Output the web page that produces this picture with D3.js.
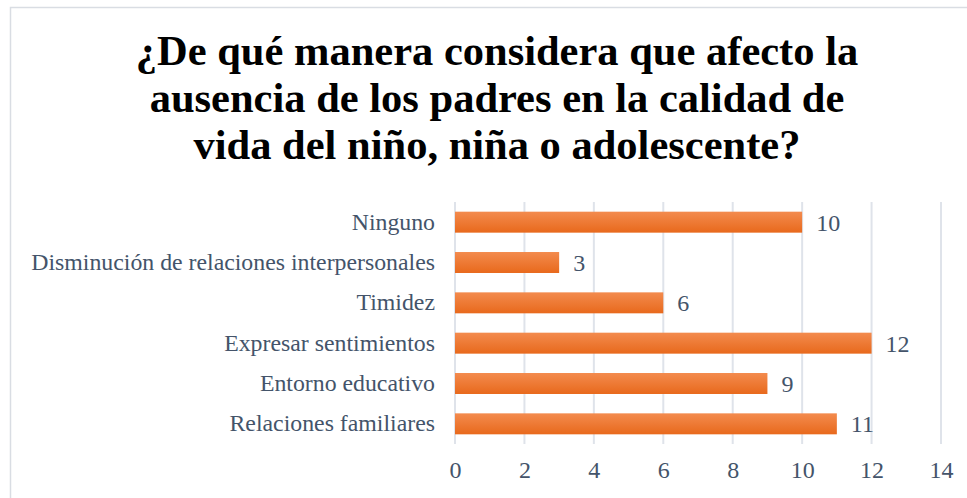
<!DOCTYPE html>
<html>
<head>
<meta charset="utf-8">
<script src="https://cdn.jsdelivr.net/npm/d3@7"></script>
<style>
  body { margin: 0; background: #fff; }
  svg { display: block; }
</style>
</head>
<body>
<div id="chart"></div>
<script>
// data
var categories = ["Ninguno", "Disminución de relaciones interpersonales", "Timidez",
  "Expresar sentimientos", "Entorno educativo", "Relaciones familiares"];
var values = [10, 3, 6, 12, 9, 11];
var xTicks = [0, 2, 4, 6, 8, 10, 12, 14];
var titleLines = ["¿De qué manera considera que afecto la",
  "ausencia de los padres en la calidad de",
  "vida del niño, niña o adolescente?"];

var W = 967, H = 498;
var margin = {top: 202, right: 26, bottom: 54, left: 455};
var width = W - margin.left - margin.right,
    height = H - margin.top - margin.bottom;

var svg = d3.select("#chart").append("svg")
  .attr("width", W).attr("height", H);

// gradient for bars
var grad = svg.append("defs").append("linearGradient")
  .attr("id", "barGrad").attr("x1", 0).attr("y1", 0).attr("x2", 0).attr("y2", 1);
grad.append("stop").attr("offset", "0%").attr("stop-color", "#f38b4e");
grad.append("stop").attr("offset", "100%").attr("stop-color", "#e8691c");

// chart border
svg.append("rect")
  .attr("x", 10.5).attr("y", 7.5)
  .attr("width", 1000).attr("height", 600)
  .attr("fill", "none").attr("stroke", "#d9dde3").attr("stroke-width", 1.5);

var serif = "'Liberation Serif', 'Times New Roman', serif";
var textColor = "#44546a";

// title
svg.append("text")
  .attr("x", 497).attr("y", 65)
  .attr("text-anchor", "middle")
  .style("font-family", serif)
  .style("font-weight", "bold")
  .style("font-size", "42.5px")
  .attr("fill", "#000")
  .selectAll("tspan").data(titleLines).enter().append("tspan")
    .attr("x", 497)
    .attr("dy", function (d, i) { return i === 0 ? 0 : 47; })
    .text(function (d) { return d; });

var g = svg.append("g")
  .attr("transform", "translate(" + margin.left + "," + margin.top + ")");

var x = d3.scaleLinear().domain([0, 14]).range([0, width]);
var y = d3.scaleBand().domain(categories).range([0, height]).paddingInner(0.48).paddingOuter(0.24);

// gridlines
g.append("g").selectAll("line").data(xTicks).enter().append("line")
  .attr("x1", function (d) { return x(d); })
  .attr("x2", function (d) { return x(d); })
  .attr("y1", 0).attr("y2", height)
  .attr("stroke", "#dfe3ea").attr("stroke-width", 2);

// x axis
var xAxis = g.append("g")
  .attr("transform", "translate(0," + height + ")")
  .call(d3.axisBottom(x).tickValues(xTicks).tickSize(0).tickPadding(17));
xAxis.select(".domain").remove();
xAxis.selectAll("text")
  .style("font-family", serif).style("font-size", "24px").attr("fill", textColor);

// y axis
var yAxis = g.append("g")
  .call(d3.axisLeft(y).tickSize(0).tickPadding(20));
yAxis.select(".domain").remove();
yAxis.selectAll("text")
  .style("font-family", serif).style("font-size", "23.8px").attr("fill", textColor);

// bars
g.append("g").selectAll("rect").data(values).enter().append("rect")
  .attr("x", x(0))
  .attr("y", function (d, i) { return y(categories[i]); })
  .attr("width", function (d) { return x(d) - x(0); })
  .attr("height", y.bandwidth())
  .attr("fill", "url(#barGrad)");

// value labels
g.append("g").selectAll("text").data(values).enter().append("text")
  .attr("x", function (d) { return x(d) + 14; })
  .attr("y", function (d, i) { return y(categories[i]) + y.bandwidth() / 2; })
  .attr("dy", "0.35em")
  .style("font-family", serif).style("font-size", "24px")
  .attr("fill", textColor)
  .text(function (d) { return d; });
</script>
</body>
</html>
